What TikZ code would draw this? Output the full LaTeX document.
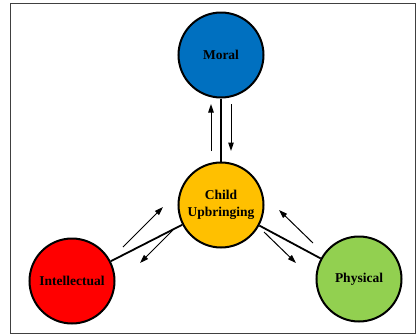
\documentclass[tikz,border=0pt]{standalone}
\usepackage{fontspec}
\setmainfont{Liberation Serif}
\usetikzlibrary{arrows.meta}
\definecolor{cblue}{HTML}{0070C0}
\definecolor{cyellow}{HTML}{FFC000}
\definecolor{cred}{HTML}{FF0000}
\definecolor{cgreen}{HTML}{92D050}
\begin{document}
\begin{tikzpicture}[x=1pt,y=-1pt,
  circ/.style={circle,draw=black,line width=2pt,minimum size=85pt,inner sep=0pt,
    font=\fontsize{13.5}{17.5}\selectfont\bfseries,align=center,text=black},
  link/.style={line width=1.8pt},
  flow/.style={line width=1pt,-{Triangle[length=8.5pt,width=5.5pt]}}]
\useasboundingbox (0,0) rectangle (416,335);
\draw[line width=1pt,black!75] (10,3.5) rectangle (415,333);
\node[circ,fill=cblue] (moral) at (221,55) {Moral};
\node[circ,fill=cyellow] (child) at (221,205) {Child\\Upbringing};
\node[circ,fill=cred] (intel) at (72,281) {Intellectual};
\node[circ,fill=cgreen] (phys) at (359,279) {Physical};
\draw[line width=1.2pt] (moral) -- (child);
\draw[link] (intel) -- (child);
\draw[link] (phys) -- (child);
\coordinate (m1s) at (211,151); \coordinate (m1e) at (211,104);
\coordinate (m2s) at (231,104); \coordinate (m2e) at (231,151);
\coordinate (i1s) at (123,247); \coordinate (i1e) at (163,207);
\coordinate (i2s) at (173,230); \coordinate (i2e) at (140,263);
\coordinate (p1s) at (313,243); \coordinate (p1e) at (279,210);
\coordinate (p2s) at (264,232); \coordinate (p2e) at (296,263);
\draw[flow] (m1s) -- (m1e);
\draw[flow] (m2s) -- (m2e);
\draw[flow] (i1s) -- (i1e);
\draw[flow] (i2s) -- (i2e);
\draw[flow] (p1s) -- (p1e);
\draw[flow] (p2s) -- (p2e);
\end{tikzpicture}
\end{document}
